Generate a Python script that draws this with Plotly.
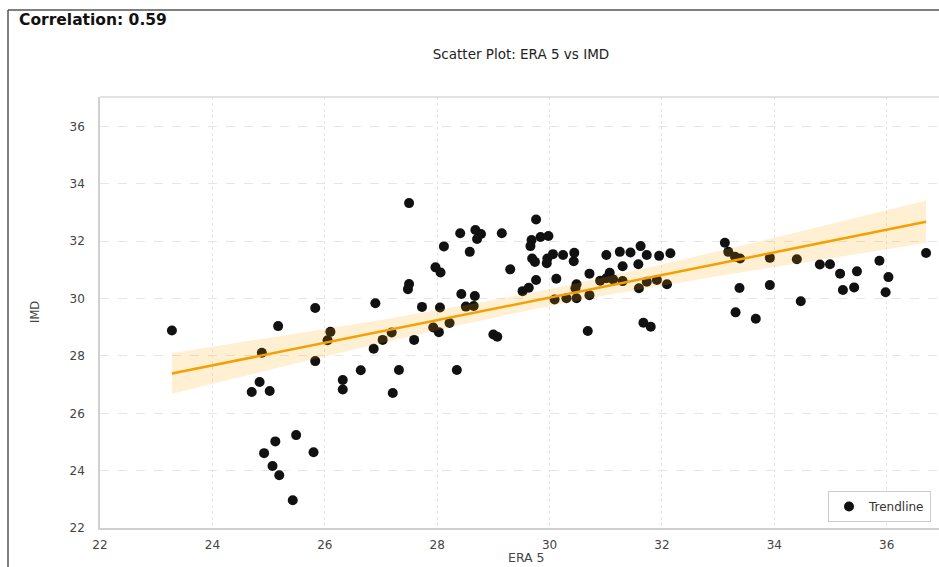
import numpy as np
import plotly.graph_objects as go

era5 = [23.28, 25.17, 25.83, 26.90, 26.10, 26.05, 24.88, 27.03, 26.87, 25.83,
        26.64, 26.32, 26.32, 24.84, 24.70, 25.02, 27.21, 25.49, 25.12, 24.92,
        25.80, 25.07, 25.19, 25.43, 27.73, 28.05, 28.51, 28.65, 27.19, 27.59,
        27.93, 28.03, 28.22, 29.00, 29.07, 27.32, 28.35, 30.68, 31.67, 31.80,
        27.50, 29.76, 28.41, 28.68, 28.78, 28.71, 29.15, 28.12, 28.58, 29.68,
        29.84, 29.98, 29.66, 29.69, 29.74, 29.95, 29.96, 30.06, 30.24, 30.44,
        30.43, 29.30, 27.97, 28.06, 27.50, 27.48, 30.71, 30.12, 29.76, 29.52,
        29.63, 28.43, 28.67, 30.09, 30.30, 30.48, 30.71, 30.48, 30.46, 31.01,
        31.25, 31.44, 31.62, 31.73, 31.95, 32.15, 31.30, 31.58, 31.07, 31.01,
        30.90, 31.13, 31.30, 31.73, 31.91, 32.09, 31.59, 33.12, 33.18, 33.30,
        33.39, 33.92, 34.40, 34.81, 34.99, 35.17, 35.47, 35.87, 36.70, 36.03,
        35.98, 35.22, 35.42, 33.92, 33.38, 34.47, 33.31, 33.67]
imd = [28.89, 29.04, 29.67, 29.84, 28.84, 28.55, 28.11, 28.56, 28.25, 27.82,
       27.50, 27.16, 26.83, 27.09, 26.74, 26.78, 26.71, 25.24, 25.02, 24.61,
       24.64, 24.16, 23.84, 22.97, 29.71, 29.69, 29.72, 29.74, 28.82, 28.56,
       28.99, 28.83, 29.15, 28.75, 28.67, 27.51, 27.51, 28.87, 29.16, 29.02,
       33.33, 32.76, 32.28, 32.39, 32.25, 32.08, 32.28, 31.82, 31.63, 32.04,
       32.15, 32.18, 31.83, 31.40, 31.28, 31.23, 31.40, 31.55, 31.52, 31.60,
       31.30, 31.02, 31.09, 30.91, 30.51, 30.33, 30.87, 30.69, 30.65, 30.26,
       30.38, 30.16, 30.09, 29.97, 30.01, 30.01, 30.12, 30.50, 30.36, 31.52,
       31.63, 31.61, 31.83, 31.52, 31.49, 31.58, 31.13, 31.20, 30.90, 30.71,
       30.62, 30.67, 30.61, 30.59, 30.65, 30.50, 30.36, 31.95, 31.63, 31.46,
       31.40, 31.42, 31.37, 31.19, 31.20, 30.87, 30.95, 31.32, 31.59, 30.75,
       30.22, 30.30, 30.39, 30.47, 30.37, 29.91, 29.52, 29.30]

x_ticks = [22, 24, 26, 28, 30, 32, 34, 36]
y_ticks = [22, 24, 26, 28, 30, 32, 34, 36]

# regression (as seaborn regplot) with 95% CI
x = np.array(era5)
y = np.array(imd)
n = len(x)
b1, b0 = np.polyfit(x, y, 1)
xs = np.linspace(x.min(), x.max(), 100)
ys = b0 + b1 * xs
resid = y - (b0 + b1 * x)
s = np.sqrt(np.sum(resid ** 2) / (n - 2))
sxx = np.sum((x - x.mean()) ** 2)
se = s * np.sqrt(1.0 / n + (xs - x.mean()) ** 2 / sxx)
t = 1.98
upper = ys + t * se
lower = ys - t * se

fig = go.Figure()
fig.add_trace(go.Scatter(x=era5, y=imd, mode="markers", name="Trendline",
                         marker=dict(color="#111111", size=10, line=dict(width=0))))
fig.add_trace(go.Scatter(x=np.concatenate([xs, xs[::-1]]),
                         y=np.concatenate([upper, lower[::-1]]),
                         fill="toself", fillcolor="rgba(255,165,0,0.17)",
                         line=dict(width=0), mode="lines", showlegend=False,
                         hoverinfo="skip"))
fig.add_trace(go.Scatter(x=xs, y=ys, mode="lines", showlegend=False,
                         line=dict(color="#f5a000", width=2.5)))

W, H = 939, 567
L, R, T, B = 100, 0, 97, 39
pw, ph = W - L - R, H - T - B

def px(xp):
    return (xp - L) / pw

def py(yp):
    return (H - B - yp) / ph

fig.update_layout(
    width=W, height=H,
    margin=dict(l=L, r=R, t=T, b=B),
    paper_bgcolor="white", plot_bgcolor="white",
    font=dict(family="DejaVu Sans", color="#333333"),
    title=dict(text="Scatter Plot: ERA 5 vs IMD", x=521 / W,
               xanchor="center", y=1 - 54 / H, yanchor="middle",
               font=dict(size=13.5, color="#222222")),
    xaxis=dict(range=[22, 36.93], tickvals=x_ticks, showgrid=True,
               gridcolor="#e6e6e6", gridwidth=1, griddash="dot", zeroline=False,
               showline=True, linecolor="#d0d0d0", linewidth=1.5,
               tickfont=dict(size=12, color="#444444"), ticks="",
               ticklabelstandoff=5),
    yaxis=dict(range=[22, 37.03], tickvals=y_ticks, showgrid=True,
               gridcolor="#e6e6e6", gridwidth=1, griddash="dash", zeroline=False,
               showline=True, linecolor="#d0d0d0", linewidth=1.5,
               tickfont=dict(size=12, color="#444444"), ticks="",
               ticklabelstandoff=11),
    legend=dict(x=px(931), y=py(522), xanchor="right", yanchor="bottom",
                bgcolor="white", bordercolor="#cccccc", borderwidth=1,
                font=dict(size=12, color="#333333"), itemwidth=30,
                tracegroupgap=0),
    showlegend=True,
    annotations=[
        dict(text="<b>Correlation: 0.59</b>", xref="paper", yref="paper",
             x=px(17), y=py(20), xanchor="left", yanchor="middle",
             showarrow=False, font=dict(size=15.5, color="#111111")),
        dict(text="ERA 5", xref="paper", yref="paper", x=px(526), y=py(557),
             xanchor="center", yanchor="middle", showarrow=False,
             font=dict(size=12.5, color="#444444")),
        dict(text="IMD", xref="paper", yref="paper", x=px(35), y=py(312),
             xanchor="center", yanchor="middle", showarrow=False, textangle=-90,
             font=dict(size=11.5, color="#444444")),
    ],
    shapes=[
        dict(type="line", xref="paper", yref="paper", x0=px(8), x1=px(W + 5),
             y0=py(10), y1=py(10), line=dict(color="#555555", width=1.5)),
        dict(type="line", xref="paper", yref="paper", x0=px(8), x1=px(8),
             y0=py(10), y1=py(H + 5), line=dict(color="#555555", width=1.5)),
        dict(type="line", xref="paper", yref="paper", x0=0, x1=1,
             y0=1, y1=1, line=dict(color="#d8d8d8", width=1.5)),
    ],
)

fig.write_html("out.html")
